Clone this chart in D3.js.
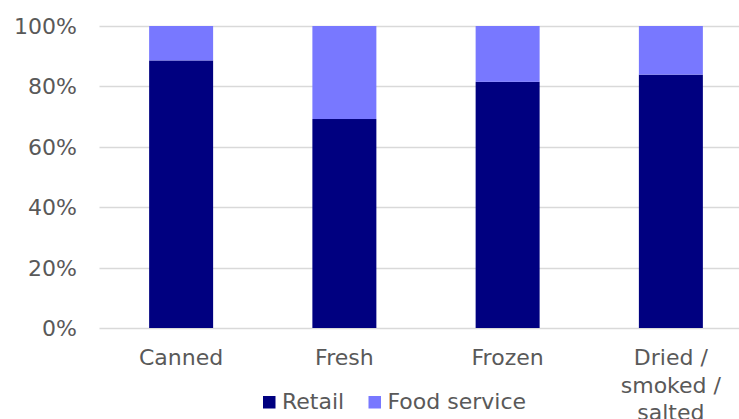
<!DOCTYPE html>
<html>
<head>
<meta charset="utf-8">
<script src="https://cdn.jsdelivr.net/npm/d3@7"></script>
<style>
  html, body { margin: 0; padding: 0; background: #fff; }
  svg { display: block; font-family: "DejaVu Sans", Verdana, sans-serif; }
</style>
</head>
<body>
<div id="chart"></div>
<script>
// Share of sales by channel, per product form
const categories = ['Canned', 'Fresh', 'Frozen', 'Dried / smoked / salted'];
const categoryLines = [['Canned'], ['Fresh'], ['Frozen'], ['Dried /', 'smoked /', 'salted']];
const seriesNames = ['Retail', 'Food service'];
const retail = [88.6, 69.2, 81.5, 83.9];
const foodService = [11.4, 30.8, 18.5, 16.1];
const yTicks = [0, 20, 40, 60, 80, 100];
const colors = ['#000080', '#7878ff'];

const width = 739, height = 419;
const margin = { top: 26, left: 99.5, bottom: 328 };

const svg = d3.select('#chart').append('svg')
    .attr('width', width)
    .attr('height', height);

const x = d3.scaleBand()
    .domain(categories)
    .range([margin.left, 752.5])
    .paddingInner(0.608)
    .paddingOuter(0.304);

const y = d3.scaleLinear()
    .domain([0, 100])
    .range([margin.bottom, margin.top]);

// gridlines
svg.append('g')
    .selectAll('line')
    .data(yTicks)
    .enter()
    .append('line')
    .attr('x1', margin.left)
    .attr('x2', width)
    .attr('y1', d => Math.round(y(d)) + 0.5)
    .attr('y2', d => Math.round(y(d)) + 0.5)
    .attr('stroke', '#d9d9d9')
    .attr('stroke-width', 1.5);

// y tick labels
svg.append('g')
    .selectAll('text')
    .data(yTicks)
    .enter()
    .append('text')
    .attr('x', 77)
    .attr('y', d => y(d))
    .attr('dy', '0.36em')
    .attr('text-anchor', 'end')
    .attr('fill', '#595959')
    .attr('font-size', '22px')
    .text(d => d + '%');

// stacked bars
const rows = categories.map((c, i) => ({ cat: c, Retail: retail[i], 'Food service': foodService[i] }));
const stack = d3.stack().keys(seriesNames)(rows);

svg.append('g')
    .selectAll('g')
    .data(stack)
    .enter()
    .append('g')
    .attr('fill', (d, i) => colors[i])
    .selectAll('rect')
    .data(d => d)
    .enter()
    .append('rect')
    .attr('x', d => x(d.data.cat))
    .attr('width', x.bandwidth())
    .attr('y', d => y(d[1]))
    .attr('height', d => y(d[0]) - y(d[1]));

// category labels
const catLabels = svg.append('g')
    .selectAll('text')
    .data(categories)
    .enter()
    .append('text')
    .attr('x', d => x(d) + x.bandwidth() / 2)
    .attr('y', 365)
    .attr('text-anchor', 'middle')
    .attr('fill', '#595959')
    .attr('font-size', '22px');

catLabels.selectAll('tspan')
    .data((d, i) => categoryLines[i])
    .enter()
    .append('tspan')
    .attr('x', function() { return this.parentNode.getAttribute('x'); })
    .attr('dy', (d, i) => i === 0 ? 0 : 27.5)
    .text(d => d);

// legend
const legendItems = [
    { name: seriesNames[0], x: 263 },
    { name: seriesNames[1], x: 368.5 }
];
const legend = svg.append('g')
    .selectAll('g')
    .data(legendItems)
    .enter()
    .append('g')
    .attr('transform', d => `translate(${d.x}, 396)`);

legend.append('rect')
    .attr('width', 12.5)
    .attr('height', 12.5)
    .attr('fill', (d, i) => colors[i]);

legend.append('text')
    .attr('x', 19)
    .attr('y', 13)
    .attr('fill', '#595959')
    .attr('font-size', '22px')
    .text(d => d.name);
</script>
</body>
</html>
